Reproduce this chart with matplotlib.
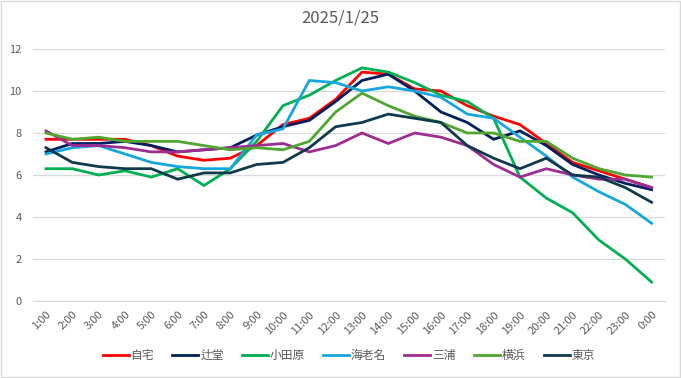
import matplotlib
matplotlib.use('Agg')
import matplotlib.pyplot as plt

plt.rcParams['font.family'] = ['Noto Sans CJK JP', 'DejaVu Sans']

# --- DATA
hours = ["1:00", "2:00", "3:00", "4:00", "5:00", "6:00", "7:00", "8:00",
         "9:00", "10:00", "11:00", "12:00", "13:00", "14:00", "15:00", "16:00",
         "17:00", "18:00", "19:00", "20:00", "21:00", "22:00", "23:00", "0:00"]
names = ["自宅", "辻堂", "小田原", "海老名", "三浦", "横浜", "東京"]

jitaku = [7.7, 7.7, 7.7, 7.7, 7.4, 6.9, 6.7, 6.8, 7.4, 8.4, 8.7, 9.6,
          10.9, 10.8, 10.1, 10.0, 9.3, 8.8, 8.4, 7.5, 6.6, 6.2, 5.8, 5.4]
tsujido = [7.1, 7.5, 7.5, 7.6, 7.4, 7.1, 7.2, 7.3, 7.9, 8.3, 8.6, 9.5,
           10.5, 10.8, 10.0, 9.0, 8.5, 7.7, 8.1, 7.4, 6.5, 6.0, 5.6, 5.3]
odawara = [6.3, 6.3, 6.0, 6.2, 5.9, 6.3, 5.5, 6.3, 7.6, 9.3, 9.8, 10.5,
           11.1, 10.9, 10.4, 9.8, 9.5, 8.7, 5.9, 4.9, 4.2, 2.9, 2.0, 0.9]
ebina = [7.0, 7.3, 7.4, 7.0, 6.6, 6.4, 6.3, 6.3, 7.9, 8.2, 10.5, 10.4,
         10.0, 10.2, 10.0, 9.7, 8.9, 8.7, 7.8, 6.9, 5.9, 5.2, 4.6, 3.7]
miura = [8.1, 7.4, 7.4, 7.3, 7.1, 7.1, 7.2, 7.3, 7.4, 7.5, 7.1, 7.4,
         8.0, 7.5, 8.0, 7.8, 7.4, 6.5, 5.9, 6.3, 6.0, 5.8, 5.8, 5.4]
yokohama = [8.0, 7.7, 7.8, 7.6, 7.6, 7.6, 7.4, 7.2, 7.3, 7.2, 7.6, 9.0,
            9.9, 9.3, 8.8, 8.5, 8.0, 8.0, 7.6, 7.6, 6.8, 6.3, 6.0, 5.9]
tokyo = [7.3, 6.6, 6.4, 6.3, 6.3, 5.8, 6.1, 6.1, 6.5, 6.6, 7.3, 8.3,
         8.5, 8.9, 8.7, 8.5, 7.4, 6.8, 6.3, 6.8, 6.0, 5.9, 5.4, 4.7]

colors = ["#FF0000", "#002060", "#00B050", "#16A6E0", "#A02B93", "#4EA72E", "#0F3A4E"]
series = [jitaku, tsujido, odawara, ebina, miura, yokohama, tokyo]

# --- PLOT
fig = plt.figure(figsize=(6.81, 3.78), dpi=100)
ax = fig.add_axes([0.0482, 0.2037, 0.928, 0.6667])

x = list(range(len(hours)))
for name, vals, c in zip(names, series, colors):
    ax.plot(x, vals, color=c, lw=2.0, label=name, solid_joinstyle='miter')

ax.set_xlim(-0.5, len(hours) - 0.5)
ax.set_ylim(0, 12)
ax.set_yticks(range(0, 13, 2))
ax.set_xticks(x)
ax.set_xticklabels(hours, rotation=45, ha='right', rotation_mode='anchor')
ax.grid(axis='y', color='#D9D9D9', lw=0.9)
ax.set_axisbelow(True)
for s in ax.spines.values():
    s.set_visible(False)
ax.spines['bottom'].set_visible(True)
ax.spines['bottom'].set_color('#D9D9D9')
ax.tick_params(length=0, colors='#595959', labelsize=8)
ax.tick_params(axis='x', pad=6)
ax.tick_params(axis='y', pad=8)

fig.suptitle("2025/1/25", x=0.5, y=0.975, fontsize=12, color='#595959')

ax.legend(loc='center', bbox_to_anchor=(0.5, -0.215), ncol=7, frameon=False,
          fontsize=8.5, labelcolor='#595959', handlelength=2.2,
          handletextpad=0.15, columnspacing=1.55)

# outer border like the spreadsheet chart frame
fig.patches.append(plt.Rectangle((0.002, 0.003), 0.996, 0.994, transform=fig.transFigure,
                                 fill=False, edgecolor='#D9D9D9', lw=1))

plt.savefig("out.png", dpi=100)
